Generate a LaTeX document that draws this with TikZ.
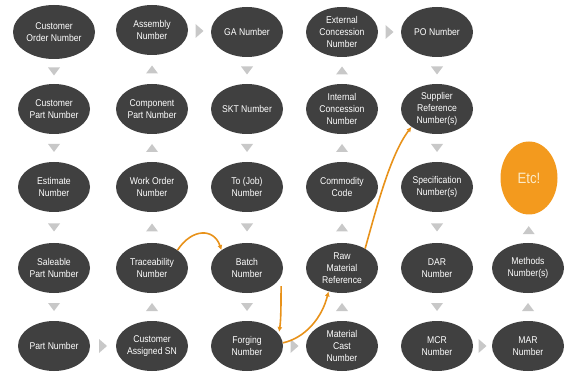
\documentclass[tikz,border=0pt]{standalone}
\usepackage{fontspec}
\setmainfont{Liberation Sans}[FakeStretch=0.88]
\usetikzlibrary{shapes.geometric,arrows.meta}
\definecolor{ellgray}{HTML}{404040}
\definecolor{trigray}{HTML}{C8C8C8}
\definecolor{etcorange}{HTML}{F39A1E}
\definecolor{arroworange}{HTML}{E8921A}
\definecolor{etctext}{HTML}{FCEBC8}
\tikzset{
  ell/.style={ellipse, fill=ellgray, text=white, minimum width=72pt, minimum height=50pt,
    inner sep=0pt, align=center, font=\fontsize{9.8}{11.8}\selectfont},
  etcell/.style={ellipse, fill=etcorange, text=etctext, minimum width=57pt, minimum height=73pt,
    inner sep=0pt, font=\fontsize{15}{16}\selectfont},
  oarrow/.style={draw=arroworange, line width=1.6pt, -{Latex[length=5pt,width=5pt]}},
  tridown/.pic={\fill[trigray] (-6,-4) -- (6,-4) -- (0,4) -- cycle;},
  triup/.pic={\fill[trigray] (-6,4) -- (6,4) -- (0,-4) -- cycle;},
  triright/.pic={\fill[trigray] (-4,-7) -- (-4,7) -- (4,0) -- cycle;},
}
\begin{document}
\begin{tikzpicture}[x=1pt,y=-1pt]
\useasboundingbox (0,0) rectangle (565,374);
% column 1
\node[ell, minimum width=82pt, minimum height=54pt] (a1) at (54,32) {Customer\\Order Number};
\node[ell] (a2) at (54,109) {Customer\\Part Number};
\node[ell] (a3) at (54,187) {Estimate\\Number};
\node[ell] (a4) at (54,268) {Saleable\\Part Number};
\node[ell] (a5) at (54,346) {Part Number};
% column 2
\node[ell] (b1) at (152,30) {Assembly\\Number};
\node[ell] (b2) at (152,109) {Component\\Part Number};
\node[ell] (b3) at (152,187) {Work Order\\Number};
\node[ell] (b4) at (152,268) {Traceability\\Number};
\node[ell] (b5) at (152,346) {Customer\\Assigned SN};
% column 3
\node[ell] (c1) at (247,32) {GA Number};
\node[ell] (c2) at (247,109) {SKT Number};
\node[ell] (c3) at (247,187) {To (Job)\\Number};
\node[ell] (c4) at (247,268) {Batch\\Number};
\node[ell] (c5) at (247,346) {Forging\\Number};
% column 4
\node[ell] (d1) at (342,32) {External\\Concession\\Number};
\node[ell] (d2) at (342,109) {Internal\\Concession\\Number};
\node[ell] (d3) at (342,187) {Commodity\\Code};
\node[ell] (d4) at (342,268) {Raw\\Material\\Reference};
\node[ell] (d5) at (342,346) {Material\\Cast\\Number};
% column 5
\node[ell] (e1) at (437,32) {PO Number};
\node[ell] (e2) at (437,109) {Supplier\\Reference\\Number(s)};
\node[ell] (e3) at (437,187) {Specification\\Number(s)};
\node[ell] (e4) at (437,268) {DAR\\Number};
\node[ell] (e5) at (437,346) {MCR\\Number};
% column 6
\node[etcell] (f3) at (529,178) {Etc!};
\node[ell] (f4) at (528,268) {Methods\\Number(s)};
\node[ell] (f5) at (528,346) {MAR\\Number};
% grey flow triangles
\foreach \p/\q in {a1/a2,a2/a3,a3/a4,a4/a5,c1/c2,c2/c3,c3/c4,c4/c5,e1/e2,e2/e3,e3/e4,e4/e5}
  {\path (\p) -- (\q) coordinate[midway] (m); \pic at (m) {tridown};}
\foreach \p/\q in {b5/b4,b4/b3,b3/b2,b2/b1,d5/d4,d4/d3,d3/d2,d2/d1,f5/f4}
  {\path (\p) -- (\q) coordinate[midway] (m); \pic at (m) {triup};}
\path (f4) -- (f3.south) coordinate[pos=0.45] (m); \pic at (m) {triup};
\foreach \p/\q in {a5/b5,b1/c1,c5/d5,d1/e1,e5/f5}
  {\path (\p) -- (\q) coordinate[midway] (m); \pic at (m) {triright};}
% orange arrows
\draw[oarrow] (b4.35) .. controls (192,228) and (214,228) .. (c4.145);
\draw[oarrow] ([xshift=4pt,yshift=-4pt]c4.-25) .. controls (281,305) and (281,320) .. ([xshift=2pt]c5.25);
\draw[oarrow] (c5.5) .. controls (305,338) and (322,318) .. (d4.-120);
\draw[oarrow] (d4.40) .. controls (376,210) and (390,155) .. (e2.-145);
\end{tikzpicture}
\end{document}
